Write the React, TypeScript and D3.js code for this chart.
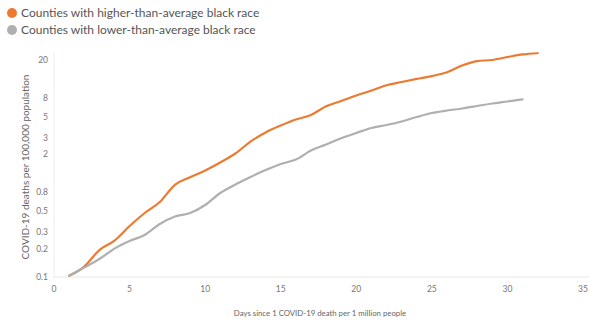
import React from "react";
import * as d3 from "d3";

const days = Array.from({ length: 32 }, (_, i) => i + 1);

const higherValues = [
  0.103, 0.129, 0.193, 0.243, 0.347, 0.477, 0.624, 0.95, 1.14, 1.35,
  1.64, 2.04, 2.73, 3.41, 4.04, 4.68, 5.22, 6.45, 7.35, 8.41,
  9.5, 10.8, 11.7, 12.6, 13.5, 14.8, 17.5, 19.5, 20.0, 21.5,
  22.9, 23.6,
];

const lowerValues = [
  0.103, 0.126, 0.155, 0.2, 0.241, 0.279, 0.365, 0.438, 0.477, 0.58,
  0.778, 0.957, 1.15, 1.36, 1.58, 1.76, 2.19, 2.54, 2.96, 3.37,
  3.8, 4.09, 4.46, 4.97, 5.48, 5.83, 6.12, 6.5, 6.92, 7.26,
  7.66,
];

const yTicks = [0.1, 0.2, 0.3, 0.5, 0.8, 2, 3, 5, 8, 20];
const xTicks = [0, 5, 10, 15, 20, 25, 30, 35];

const seriesNames = [
  "Counties with higher-than-average black race",
  "Counties with lower-than-average black race",
];
const seriesColors = ["#EC7A30", "#AFAFAF"];

const W = 589;
const H = 320;

export default function App() {
  const x = d3.scaleLinear().domain([0, 35]).range([54, 583]);
  const y = d3.scaleLog().domain([0.1, 20]).range([277, 60]);
  const line = d3
    .line<number>()
    .x((_, i) => x(days[i]))
    .y((d) => y(d))
    .curve(d3.curveMonotoneX);

  const font = "Lato, 'Open Sans', sans-serif";
  const series = [higherValues, lowerValues];

  return (
    <svg
      width={W}
      height={H}
      style={{ position: "absolute", left: 0, top: 0, background: "#fff" }}
      fontFamily={font}
    >
      {/* legend */}
      {seriesNames.map((name, i) => (
        <g key={name} transform={`translate(0, ${13 + i * 17})`}>
          <circle cx={12} cy={0} r={5} fill={seriesColors[i]} />
          <text x={21} y={0} dy="0.35em" fontSize={12} fill="#555">
            {name}
          </text>
        </g>
      ))}

      {/* axes lines */}
      <line x1={x(0)} x2={x(0)} y1={52} y2={y(0.1)} stroke="#eee" />
      <line x1={x(0)} x2={W} y1={y(0.1)} y2={y(0.1)} stroke="#e6e6e6" />

      {/* y ticks */}
      {yTicks.map((t) => (
        <text
          key={t}
          x={48}
          y={y(t)}
          dy="0.35em"
          textAnchor="end"
          fontSize={8.5}
          fill="#777"
        >
          {t}
        </text>
      ))}

      {/* x ticks */}
      {xTicks.map((t) => (
        <text
          key={t}
          x={x(t)}
          y={289}
          dy="0.35em"
          textAnchor="middle"
          fontSize={8.5}
          fill="#777"
        >
          {t}
        </text>
      ))}

      {/* axis titles */}
      <text
        transform={`translate(25, 167) rotate(-90)`}
        textAnchor="middle"
        dy="0.35em"
        fontSize={10}
        fill="#666"
      >
        COVID-19 deaths per 100,000 population
      </text>
      <text
        x={320}
        y={313}
        dy="0.35em"
        textAnchor="middle"
        fontSize={7.8}
        fill="#666"
      >
        Days since 1 COVID-19 death per 1 million people
      </text>

      {/* lines */}
      {series.map((vals, i) => (
        <path
          key={i}
          d={line(vals) || ""}
          fill="none"
          stroke={seriesColors[i]}
          strokeWidth={2.2}
          strokeLinejoin="round"
          strokeLinecap="round"
        />
      ))}
    </svg>
  );
}
